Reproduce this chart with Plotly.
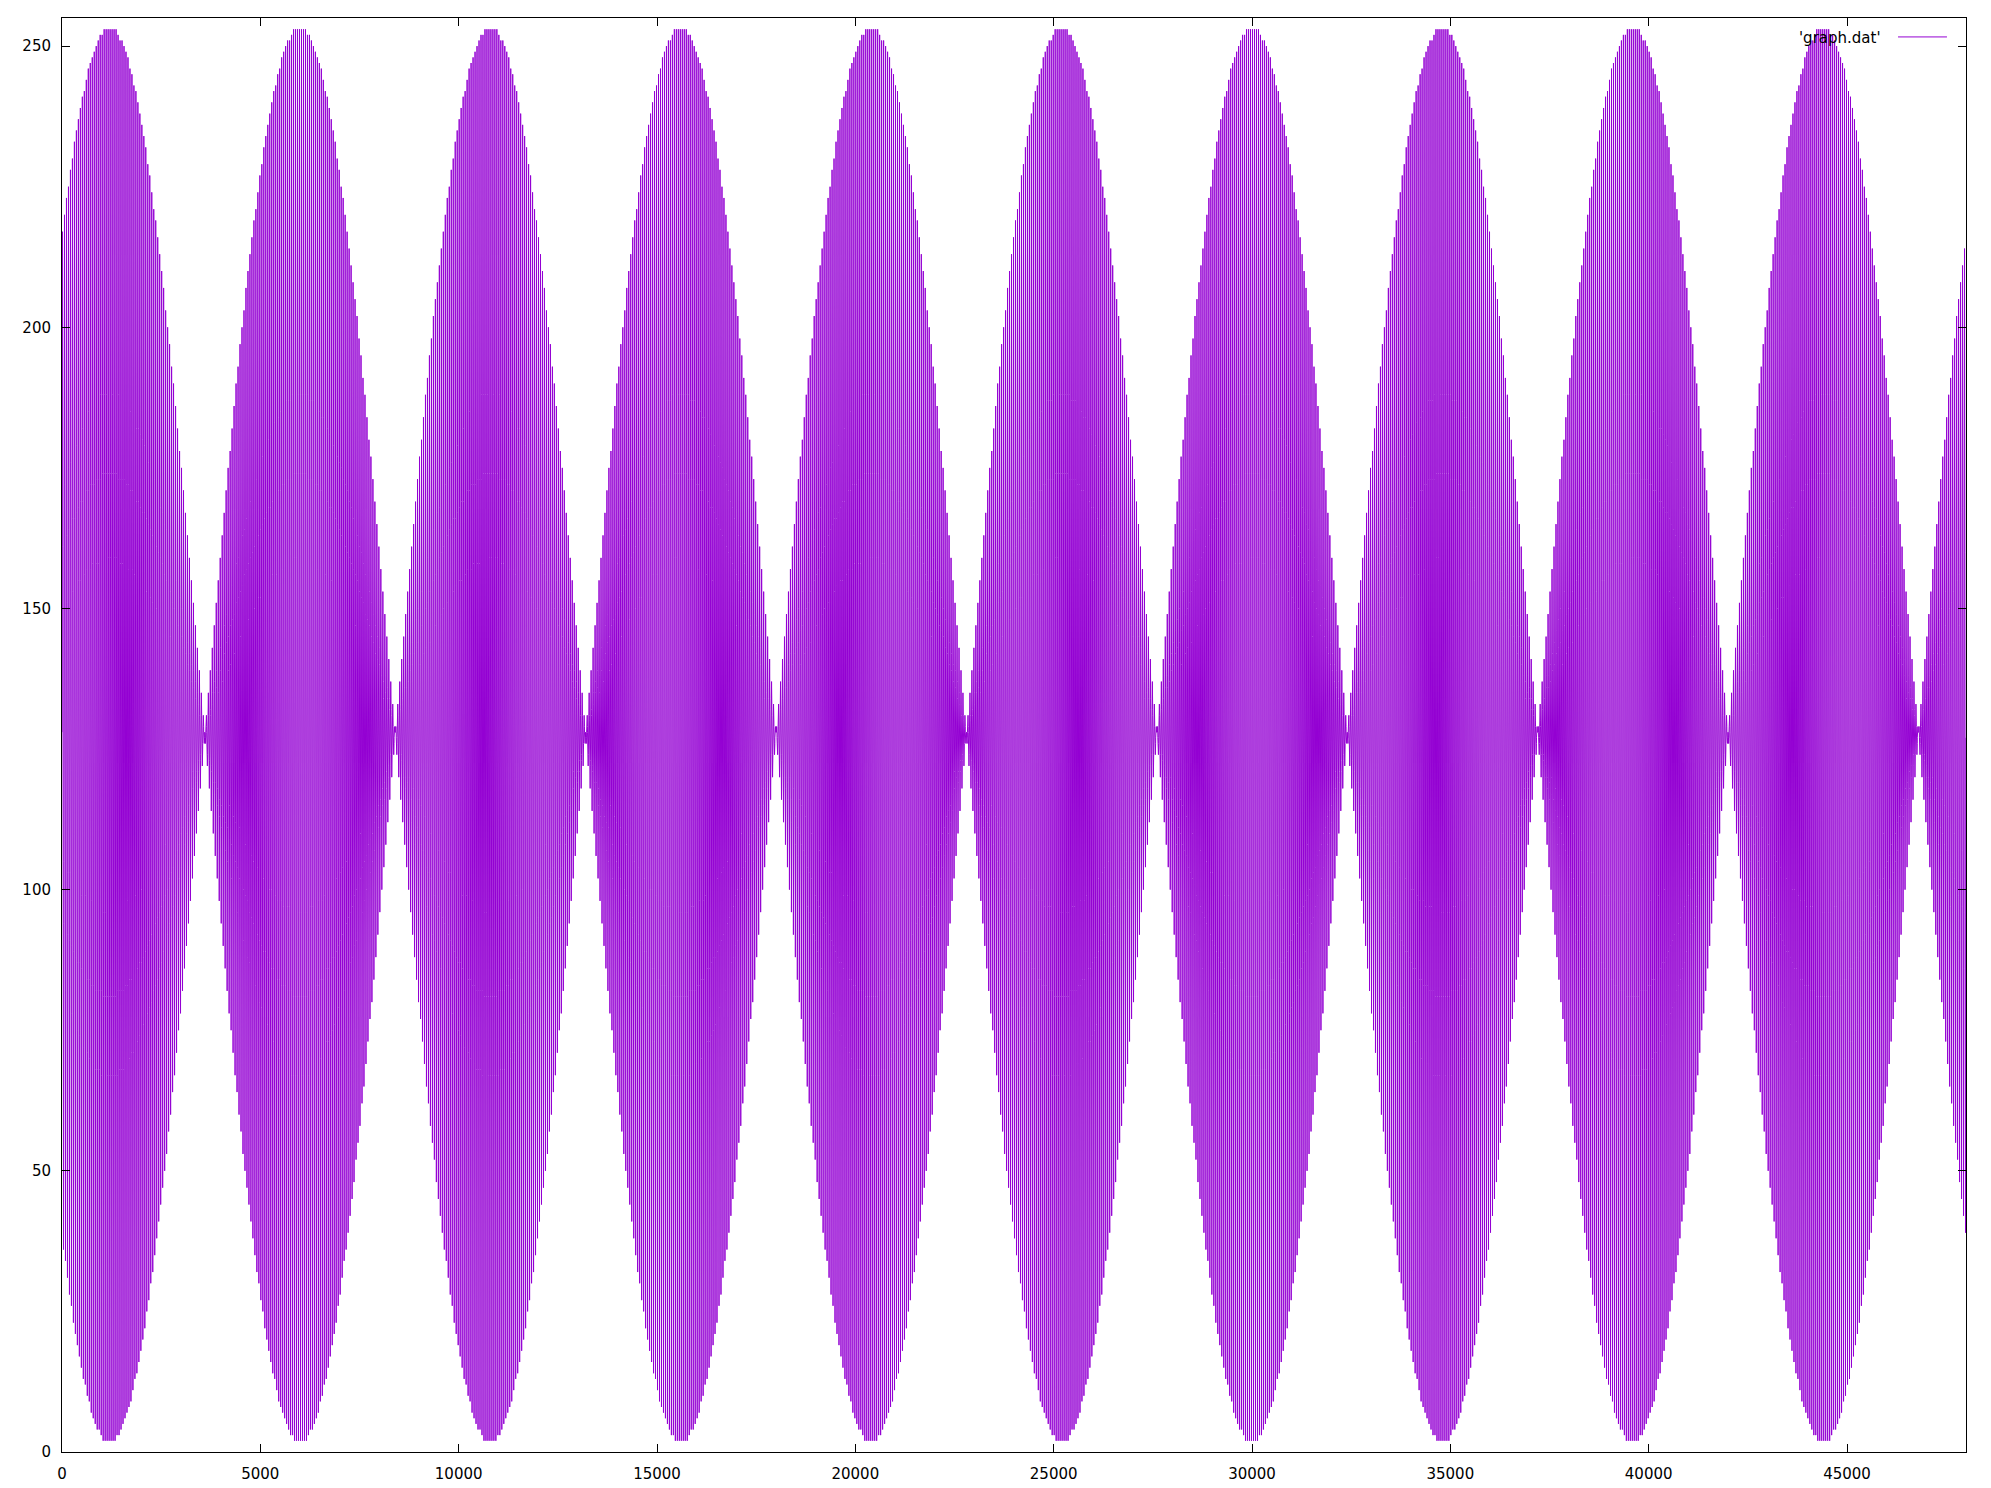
import numpy as np
import plotly.graph_objects as go

# --- values ---
N_SAMPLES = 48000            # x runs from 0 to 48000 (axis end)
CENTER = 127.5               # mid level of the 8-bit signal
AMPLITUDE = 126              # peaks reach ~253, troughs ~1
BEAT_PEAK_FIRST = 1200       # first envelope maximum
BEAT_SPACING = 4800          # distance between envelope maxima (nodes at 3600, 8400, ...)
CARRIER_PERIOD = 50          # samples per carrier cycle (≈2 px steps in the picture)

X_TICKS = [0, 5000, 10000, 15000, 20000, 25000, 30000, 35000, 40000, 45000]
X_TICK_TEXT = ["0", "5000", "10000", "15000", "20000", "25000", "30000", "35000", "40000", "45000"]
Y_TICKS = [0, 50, 100, 150, 200, 250]
Y_TICK_TEXT = ["0", "50", "100", "150", "200", "250"]
LEGEND_LABEL = "'graph.dat'"

n = np.arange(N_SAMPLES + 1)
envelope = np.cos(np.pi * (n - BEAT_PEAK_FIRST) / BEAT_SPACING)
y = np.round(CENTER + AMPLITUDE * envelope * np.sin(2 * np.pi * n / CARRIER_PERIOD))

COLOR = "#9400D3"
FONT = dict(family="DejaVu Sans", size=15, color="black")

fig = go.Figure()
fig.add_trace(go.Scatter(x=n, y=y, mode="lines",
                         line=dict(color=COLOR, width=1),
                         showlegend=False, name=LEGEND_LABEL))

axis_common = dict(showline=True, linecolor="black", linewidth=1, mirror="allticks",
                   ticks="inside", ticklen=8, tickwidth=1, tickcolor="black",
                   showgrid=False, zeroline=False, automargin=False,
                   tickfont=FONT)

# the html page has an 8px body margin, so the figure is offset by (8, 8)
fig.update_layout(
    width=1983, height=1480,
    margin=dict(l=54, r=25, t=10, b=36, autoexpand=False),
    paper_bgcolor="white", plot_bgcolor="white",
    xaxis=dict(range=[0, N_SAMPLES], tickvals=X_TICKS, ticktext=X_TICK_TEXT, ticklabelstandoff=8, **axis_common),
    yaxis=dict(range=[0, 255], tickvals=Y_TICKS, ticktext=Y_TICK_TEXT, ticklabelstandoff=7, **axis_common),
)

# gnuplot-style key: text on the left, line sample on the right
fig.add_annotation(xref="paper", yref="paper", x=0.9564, y=0.9864,
                   text=LEGEND_LABEL, showarrow=False, xanchor="right", yanchor="middle",
                   font=FONT)
fig.add_shape(type="line", xref="paper", yref="paper", x0=0.9643, x1=0.9900, y0=0.9868, y1=0.9868,
              line=dict(color=COLOR, width=1))

fig.write_html("out.html")
